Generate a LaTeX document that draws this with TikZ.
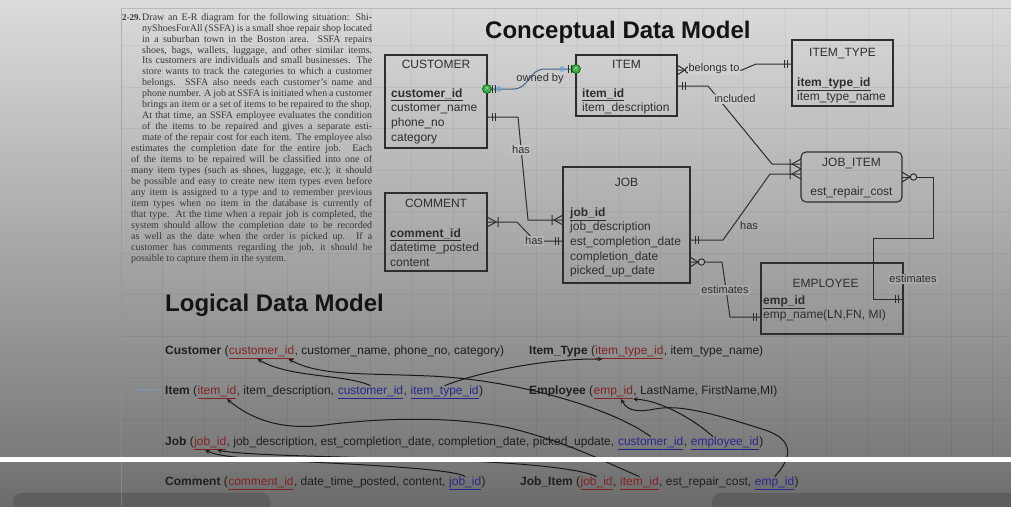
\documentclass[tikz,border=0pt]{standalone}
\usepackage{fontspec}
\setmainfont{Liberation Sans}
\newfontfamily\bookfont{Liberation Serif}
\usepackage{xcolor}
\usetikzlibrary{shapes,arrows,positioning,calc}
\definecolor{inkgray}{RGB}{46,46,46}
\definecolor{keyred}{RGB}{128,36,36}
\definecolor{keyblue}{RGB}{40,40,140}
\definecolor{linkblue}{RGB}{70,100,130}
\definecolor{handlegreen}{RGB}{60,170,70}
\definecolor{handleblue}{RGB}{110,165,215}

\begin{document}
\begin{tikzpicture}[x=1pt, y=-1pt]
    \tikzstyle{ent} = [draw=inkgray, line width=1.1pt, anchor=north west, inner sep=0pt, outer sep=0pt]
    \tikzstyle{etitle} = [anchor=base, inner sep=0pt, text=inkgray, font=\fontsize{12}{14.6}\selectfont]
    \tikzstyle{eattr} = [anchor=north west, inner sep=0pt, align=left, text=inkgray, font=\fontsize{12}{14.6}\selectfont]
    \tikzstyle{erline} = [draw=inkgray, line width=1pt]
    \tikzstyle{elabel} = [inner sep=1pt, text=inkgray, font=\fontsize{11}{13}\selectfont]
    \tikzstyle{handle} = [circle, fill=handlegreen, draw=green!35!black, line width=0.6pt, inner sep=0pt, minimum size=9pt, text=white, font=\fontsize{7}{7}\selectfont]
    \tikzstyle{rel} = [anchor=base west, inner sep=0pt, text=black!88, font=\fontsize{12}{14}\selectfont]
    \tikzstyle{pk} = [rel, text=keyred]
    \tikzstyle{fk} = [rel, text=keyblue]
    \tikzstyle{larrow} = [line width=1pt, ->, >=stealth, black!90]
    \tikzstyle{heading} = [anchor=base west, inner sep=0pt, text=black!92, font=\fontsize{24}{28}\selectfont\bfseries]
    \tikzset{
        pics/onemark/.style={code={\draw[erline] (5,-4) -- (5,4) (8,-4) -- (8,4);}},
        pics/manymark/.style={code={\draw[erline] (0,-5) -- (9,0) -- (0,5) (11,-5) -- (11,5);}},
        pics/zmanymark/.style={code={\draw[erline] (0,-5) -- (8,0) -- (0,5); \draw[erline, fill=#1] (11.5,0) circle (3.2);}},
    }

    % screen
    \useasboundingbox (0,0) rectangle (1011,506);
    \shade[top color=black!14, middle color=black!29, bottom color=black!52] (0,0) rectangle (1011,457);
    \shade[top color=black!52, bottom color=black!58] (0,457) rectangle (1011,506);
    \fill[black!63, rounded corners=8pt] (13,493) rectangle (270,520);
    \fill[black!63, rounded corners=8pt] (712,493) rectangle (1030,520);
    \draw[black, opacity=.05, line width=.6pt, step=41.5pt, shift={(121,4)}] (0,4) grid (890,453);
    \draw[black!40, opacity=.5, line width=.6pt] (121,506) -- (121,8) -- (1011,8);

    % exercise text
    \node[anchor=north west, inner sep=0pt, align=left, text=black!78, font=\bookfont\fontsize{10}{10.95}\selectfont] (problem) at (122,12.3) {\strut\makebox[20pt][l]{\fontsize{9}{10}\selectfont\textbf{2-29.}}\makebox[230pt][s]{Draw an E-R diagram for the following situation: Shi-}\\
    \hspace*{20pt}\makebox[230pt][s]{nyShoesForAll (SSFA) is a small shoe repair shop located}\\
    \hspace*{20pt}\makebox[230pt][s]{in a suburban town in the Boston area. SSFA repairs}\\
    \hspace*{20pt}\makebox[230pt][s]{shoes, bags, wallets, luggage, and other similar items.}\\
    \hspace*{20pt}\makebox[230pt][s]{Its customers are individuals and small businesses. The}\\
    \hspace*{20pt}\makebox[230pt][s]{store wants to track the categories to which a customer}\\
    \hspace*{20pt}\makebox[230pt][s]{belongs. SSFA also needs each customer’s name and}\\
    \hspace*{20pt}\makebox[230pt][s]{phone number. A job at SSFA is initiated when a customer}\\
    \hspace*{20pt}\makebox[230pt][s]{brings an item or a set of items to be repaired to the shop.}\\
    \hspace*{20pt}\makebox[230pt][s]{At that time, an SSFA employee evaluates the condition}\\
    \hspace*{20pt}\makebox[230pt][s]{of the items to be repaired and gives a separate esti-}\\
    \hspace*{20pt}\makebox[230pt][s]{mate of the repair cost for each item. The employee also}\\
    \hspace*{9pt}\makebox[241pt][s]{estimates the completion date for the entire job. Each}\\
    \hspace*{9pt}\makebox[241pt][s]{of the items to be repaired will be classified into one of}\\
    \hspace*{9pt}\makebox[241pt][s]{many item types (such as shoes, luggage, etc.); it should}\\
    \hspace*{9pt}\makebox[241pt][s]{be possible and easy to create new item types even before}\\
    \hspace*{9pt}\makebox[241pt][s]{any item is assigned to a type and to remember previous}\\
    \hspace*{9pt}\makebox[241pt][s]{item types when no item in the database is currently of}\\
    \hspace*{9pt}\makebox[241pt][s]{that type. At the time when a repair job is completed, the}\\
    \hspace*{9pt}\makebox[241pt][s]{system should allow the completion date to be recorded}\\
    \hspace*{9pt}\makebox[241pt][s]{as well as the date when the order is picked up. If a}\\
    \hspace*{9pt}\makebox[241pt][s]{customer has comments regarding the job, it should be}\\
    \hspace*{9pt}possible to capture them in the system.};

    \node[heading] (concept) at (485,38.5) {Conceptual Data Model};
    \node[heading] (logical) at (165,311) {Logical Data Model};

    % entities
    \node[ent, minimum width=102pt, minimum height=93pt] (customer) at (385,55) {};
    \node[etitle] at ($(customer.north)+(0,13.3)$) {CUSTOMER};
    \node[eattr] at ($(customer.north west)+(6,31.8)$) {\strut\underline{\textbf{customer\_id}}\\customer\_name\\phone\_no\\category};

    \node[ent, minimum width=101pt, minimum height=61pt] (item) at (576,55) {};
    \node[etitle] at ($(item.north)+(0,13.3)$) {ITEM};
    \node[eattr] at ($(item.north west)+(6,31.8)$) {\strut\underline{\textbf{item\_id}}\\item\_description};

    \node[ent, minimum width=101pt, minimum height=66pt] (itemtype) at (792,40) {};
    \node[etitle] at ($(itemtype.north)+(0,16.3)$) {ITEM\_TYPE};
    \node[eattr] at ($(itemtype.north west)+(5,35.8)$) {\strut\underline{\textbf{item\_type\_id}}\\item\_type\_name};

    \node[ent, minimum width=127pt, minimum height=116pt] (job) at (563,167) {};
    \node[etitle] at ($(job.north)+(0,19.3)$) {JOB};
    \node[eattr] at ($(job.north west)+(7,38.8)$) {\strut\underline{\textbf{job\_id}}\\job\_description\\est\_completion\_date\\completion\_date\\picked\_up\_date};

    \node[ent, minimum width=102pt, minimum height=78pt] (comment) at (385,193) {};
    \node[etitle] at ($(comment.north)+(0,14.3)$) {COMMENT};
    \node[eattr] at ($(comment.north west)+(5,33.8)$) {\strut\underline{\textbf{comment\_id}}\\datetime\_posted\\content};

    \node[ent, rounded corners=5pt, minimum width=101pt, minimum height=50pt] (jobitem) at (801,152) {};
    \node[etitle] at ($(jobitem.north)+(0,14.3)$) {JOB\_ITEM};
    \node[etitle] at ($(jobitem.north)+(0,43)$) {est\_repair\_cost};

    \node[ent, minimum width=142pt, minimum height=71pt] (employee) at (761,263) {};
    \node[etitle] at ($(employee.north)+(-6.5,24.3)$) {EMPLOYEE};
    \node[eattr] at ($(employee.north west)+(2,30.8)$) {\strut\underline{\textbf{emp\_id}}\\emp\_name(LN,FN, MI)};

    % relationships
    \draw[erline, draw=linkblue] ($(customer.north east)+(0,34)$) -- (513,89) .. controls (530,89) and (528,69) .. (545,69) -- ($(item.north west)+(0,14)$);
    \draw[erline] ($(item.north east)+(0,15)$) -- (742,70) -- (756,64) -- ($(itemtype.north west)+(0,24)$);
    \draw[erline] ($(item.north east)+(0,31)$) -- (708,86) -- (772,164) -- ($(jobitem.north west)+(0,12)$);
    \draw[erline] ($(customer.north east)+(0,62)$) -- (518,117) -- (528,220) -- ($(job.north west)+(0,53)$);
    \draw[erline] ($(comment.north east)+(0,29)$) -- (517,222) -- (535,241) -- ($(job.north west)+(0,74)$);
    \draw[erline] ($(job.north east)+(0,73)$) -- (723,240) -- (770,174) -- ($(jobitem.north west)+(0,22)$);
    \draw[erline] ($(job.north east)+(0,95)$) -- (722,262) -- (730,317) -- ($(employee.north west)+(0,54)$);
    \draw[erline] ($(jobitem.north east)+(0,25)$) -- (933,177) -- (933,238) -- (873,238) -- (873,299) -- ($(employee.north east)+(0,36)$);

    \pic at ($(customer.north east)+(0,34)$) {onemark};
    \pic[rotate=180] at ($(item.north west)+(0,14)$) {onemark};
    \pic at ($(item.north east)+(0,15)$) {zmanymark=black!18};
    \pic[rotate=180] at ($(itemtype.north west)+(0,24)$) {onemark};
    \pic at ($(item.north east)+(0,31)$) {onemark};
    \pic[rotate=180] at ($(jobitem.north west)+(0,12)$) {manymark};
    \pic at ($(customer.north east)+(0,62)$) {onemark};
    \pic[rotate=180] at ($(job.north west)+(0,53)$) {manymark};
    \pic at ($(comment.north east)+(0,29)$) {manymark};
    \pic[rotate=180] at ($(job.north west)+(0,74)$) {onemark};
    \pic at ($(job.north east)+(0,73)$) {onemark};
    \pic[rotate=180] at ($(jobitem.north west)+(0,22)$) {manymark};
    \pic at ($(job.north east)+(0,95)$) {zmanymark=black!32};
    \pic[rotate=180] at ($(employee.north west)+(0,54)$) {onemark};
    \pic at ($(jobitem.north east)+(0,25)$) {zmanymark=black!26};
    \pic[rotate=180] at ($(employee.north east)+(0,36)$) {onemark};

    \node[elabel] at (540,79) {owned by};
    \node[elabel, fill=black!18] at (714,69) {belongs to};
    \node[elabel, fill=black!20] at (735,99) {included};
    \node[elabel, fill=black!24] at (521,150) {has};
    \node[elabel, fill=black!30] at (534,241) {has};
    \node[elabel] at (749,226) {has};
    \node[elabel, fill=black!35] at (725,290) {estimates};
    \node[elabel, fill=black!34] at (913,279) {estimates};

    % selected edge handles
    \fill[handleblue, opacity=.8] (499,89) circle (2.8);
    \fill[handleblue, opacity=.8] (562,69) circle (2.8);
    \node[handle] (hstart) at ($(customer.north east)+(0,34)$) {$\times$};
    \node[handle] (hend) at ($(item.north west)+(0,14)$) {$\times$};

    % relations
    \node[rel] (cA) at (165,354.5) {\textbf{Customer} (};
    \node[pk] (cpk) at (cA.base east) {\underline{customer\_id}};
    \node[rel] (cB) at (cpk.base east) {, customer\_name, phone\_no, category)};

    \node[rel] (tA) at (529,354.5) {\textbf{Item\_Type} (};
    \node[pk] (tpk) at (tA.base east) {\underline{item\_type\_id}};
    \node[rel] (tB) at (tpk.base east) {, item\_type\_name)};

    \node[rel] (iA) at (165,394.5) {\textbf{Item} (};
    \node[pk] (ipk) at (iA.base east) {\underline{item\_id}};
    \node[rel] (iB) at (ipk.base east) {, item\_description,\ \null};
    \node[fk] (icust) at (iB.base east) {\underline{customer\_id}};
    \node[rel] (iC) at (icust.base east) {,\ \null};
    \node[fk] (itype) at (iC.base east) {\underline{item\_type\_id}};
    \node[rel] (iD) at (itype.base east) {)};

    \node[rel] (eA) at (529,394.5) {\textbf{Employee} (};
    \node[pk] (epk) at (eA.base east) {\underline{emp\_id}};
    \node[rel] (eB) at (epk.base east) {, LastName, FirstName,MI)};

    \node[rel] (jA) at (165,445.5) {\textbf{Job} (};
    \node[pk] (jpk) at (jA.base east) {\underline{job\_id}};
    \node[rel] (jB) at (jpk.base east) {, job\_description, est\_completion\_date, completion\_date, picked\_update,\ \null};
    \node[fk] (jcust) at (jB.base east) {\underline{customer\_id}};
    \node[rel] (jC) at (jcust.base east) {,\ \null};
    \node[fk] (jemp) at (jC.base east) {\underline{employee\_id}};
    \node[rel] (jD) at (jemp.base east) {)};

    \node[rel] (mA) at (165,485.5) {\textbf{Comment} (};
    \node[pk] (mpk) at (mA.base east) {\underline{comment\_id}};
    \node[rel] (mB) at (mpk.base east) {, date\_time\_posted, content,\ \null};
    \node[fk] (mjob) at (mB.base east) {\underline{job\_id}};
    \node[rel] (mC) at (mjob.base east) {)};

    \node[rel] (kA) at (520,485.5) {\textbf{Job\_Item} (};
    \node[pk] (kjob) at (kA.base east) {\underline{job\_id}};
    \node[rel] (kB) at (kjob.base east) {,\ \null};
    \node[pk] (kitem) at (kB.base east) {\underline{item\_id}};
    \node[rel] (kC) at (kitem.base east) {, est\_repair\_cost,\ \null};
    \node[fk] (kemp) at (kC.base east) {\underline{emp\_id}};
    \node[rel] (kD) at (kemp.base east) {)};

    \draw[handleblue, opacity=.45, line width=1.6pt] (157,390) -- (139,390);

    % foreign keys
    \draw[larrow] (icust.north) .. controls (345,374) and (290,378) .. ([xshift=-4pt]cpk.south);
    \draw[larrow] (jcust.north) .. controls (615,410) and (520,380) .. (430,376) .. controls (360,373) and (320,376) .. ([xshift=27pt]cpk.south);
    \draw[larrow] (itype.north) .. controls (490,368) and (560,358) .. ([xshift=7pt]tpk.south west);
    \draw[larrow] ([xshift=-12pt]jemp.north) .. controls (695,420) and (660,400) .. (epk.south east);
    \draw[larrow] (kemp.north) .. controls (792,458) and (795,440) .. (765,430) .. controls (715,414) and (680,404) .. (655,409) .. controls (640,412) and (628,412) .. ([xshift=-12pt]epk.south east);
    \draw[larrow] (mjob.north) .. controls (455,470) and (390,466) .. (310,462) .. controls (250,459) and (220,457) .. ([xshift=-5pt]jpk.south);
    \draw[larrow] (kjob.north) .. controls (575,466) and (490,461) .. (410,459) .. controls (310,456) and (245,455) .. ([xshift=7pt]jpk.south);
    \draw[larrow] (kitem.north) .. controls (605,462) and (575,446) .. (525,432) .. controls (475,417) and (395,416) .. (325,425) .. controls (280,431) and (250,418) .. ([xshift=10pt]ipk.south);

    \fill[white] (0,456.5) rectangle (1011,461.5);
\end{tikzpicture}
\end{document}
